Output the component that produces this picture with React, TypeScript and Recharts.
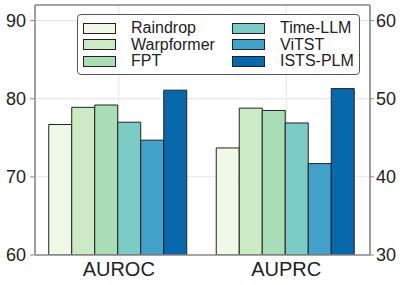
import React from 'react';
import { BarChart, Bar, XAxis, YAxis, CartesianGrid, ReferenceLine } from 'recharts';

const categories = ['AUROC', 'AUPRC'];
const models = ['Raindrop', 'Warpformer', 'FPT', 'Time-LLM', 'ViTST', 'ISTS-PLM'];
const aurocValues = [76.7, 78.9, 79.2, 77.0, 74.7, 81.1];
const auprcValues = [43.7, 48.8, 48.5, 46.9, 41.7, 51.3];
const leftTicks = [60, 70, 80, 90];
const rightTicks = [30, 40, 50, 60];

const COLORS = ['#f0f9e8', '#ccebc5', '#a8ddb5', '#7bccc4', '#43a2ca', '#0868ac'];
const FONT = '"Liberation Sans", Arial, sans-serif';
const SPINE = '#8a8a8a';

// AUROC row uses left axis keys, AUPRC row uses right axis keys
const data = categories.map((metric, row) => {
  const entry: Record<string, any> = { metric };
  models.forEach((m, i) => {
    entry[`roc_${i}`] = row === 0 ? aurocValues[i] : null;
    entry[`prc_${i}`] = row === 1 ? auprcValues[i] : null;
  });
  return entry;
});

const Legend = () => (
  <div
    style={{
      position: 'absolute',
      left: 77,
      top: 14,
      width: 283,
      height: 61,
      boxSizing: 'border-box',
      border: '1px solid #555',
      borderRadius: 4,
      background: '#fff',
      fontFamily: FONT,
      fontSize: 16,
      color: '#222',
    }}
  >
    {models.map((name, i) => {
      const col = Math.floor(i / 3);
      const row = i % 3;
      return (
        <div
          key={name}
          style={{
            position: 'absolute',
            left: col === 0 ? 5 : 154,
            top: 5 + row * 16.5,
            height: 16,
            display: 'flex',
            alignItems: 'center',
            whiteSpace: 'nowrap',
          }}
        >
          <span
            style={{
              display: 'inline-block',
              width: 33,
              height: 11,
              boxSizing: 'border-box',
              background: COLORS[i],
              border: '1px solid #222',
              marginRight: 15,
            }}
          />
          <span>{name}</span>
        </div>
      );
    })}
  </div>
);

const App: React.FC = () => {
  return (
    <div style={{ position: 'absolute', left: 0, top: 0, width: 403, height: 285, background: '#fff' }}>
      <BarChart
        width={403}
        height={285}
        data={data}
        margin={{ top: 5, right: 0, bottom: 0, left: 0 }}
        barCategoryGap="8.2%"
        barGap={0}
      >
        <CartesianGrid xAxisId="a" yAxisId="left" stroke="#e3e3e3" strokeWidth={1} />
        <XAxis
          xAxisId="a"
          dataKey="metric"
          height={30}
          tickLine={false}
          tickSize={0}
          tickMargin={7}
          axisLine={{ stroke: SPINE, strokeWidth: 1.6 }}
          tick={{ fontSize: 20, fill: '#222', fontFamily: FONT }}
        />
        <XAxis xAxisId="b" dataKey="metric" hide />
        <YAxis
          yAxisId="left"
          width={35}
          domain={[60, 92]}
          ticks={leftTicks}
          allowDataOverflow
          tickSize={5}
          tickMargin={4}
          axisLine={{ stroke: SPINE, strokeWidth: 1.6 }}
          tickLine={{ stroke: SPINE }}
          tick={{ fontSize: 18, fill: '#222', fontFamily: FONT }}
        />
        <YAxis
          yAxisId="right"
          orientation="right"
          width={33}
          domain={[30, 62]}
          ticks={rightTicks}
          allowDataOverflow
          tickSize={4}
          tickMargin={2}
          axisLine={{ stroke: SPINE, strokeWidth: 1.6 }}
          tickLine={{ stroke: SPINE }}
          tick={{ fontSize: 18, fill: '#222', fontFamily: FONT }}
        />
        <ReferenceLine xAxisId="a" yAxisId="left" y={92} stroke={SPINE} strokeWidth={1.6} />
        {models.map((m, i) => (
          <Bar
            key={`roc_${i}`}
            xAxisId="a"
            yAxisId="left"
            dataKey={`roc_${i}`}
            name={m}
            fill={COLORS[i]}
            stroke="#222"
            strokeWidth={1}
            isAnimationActive={false}
          />
        ))}
        {models.map((m, i) => (
          <Bar
            key={`prc_${i}`}
            xAxisId="b"
            yAxisId="right"
            dataKey={`prc_${i}`}
            name={m}
            fill={COLORS[i]}
            stroke="#222"
            strokeWidth={1}
            isAnimationActive={false}
          />
        ))}
      </BarChart>
      <Legend />
    </div>
  );
};

export default App;
